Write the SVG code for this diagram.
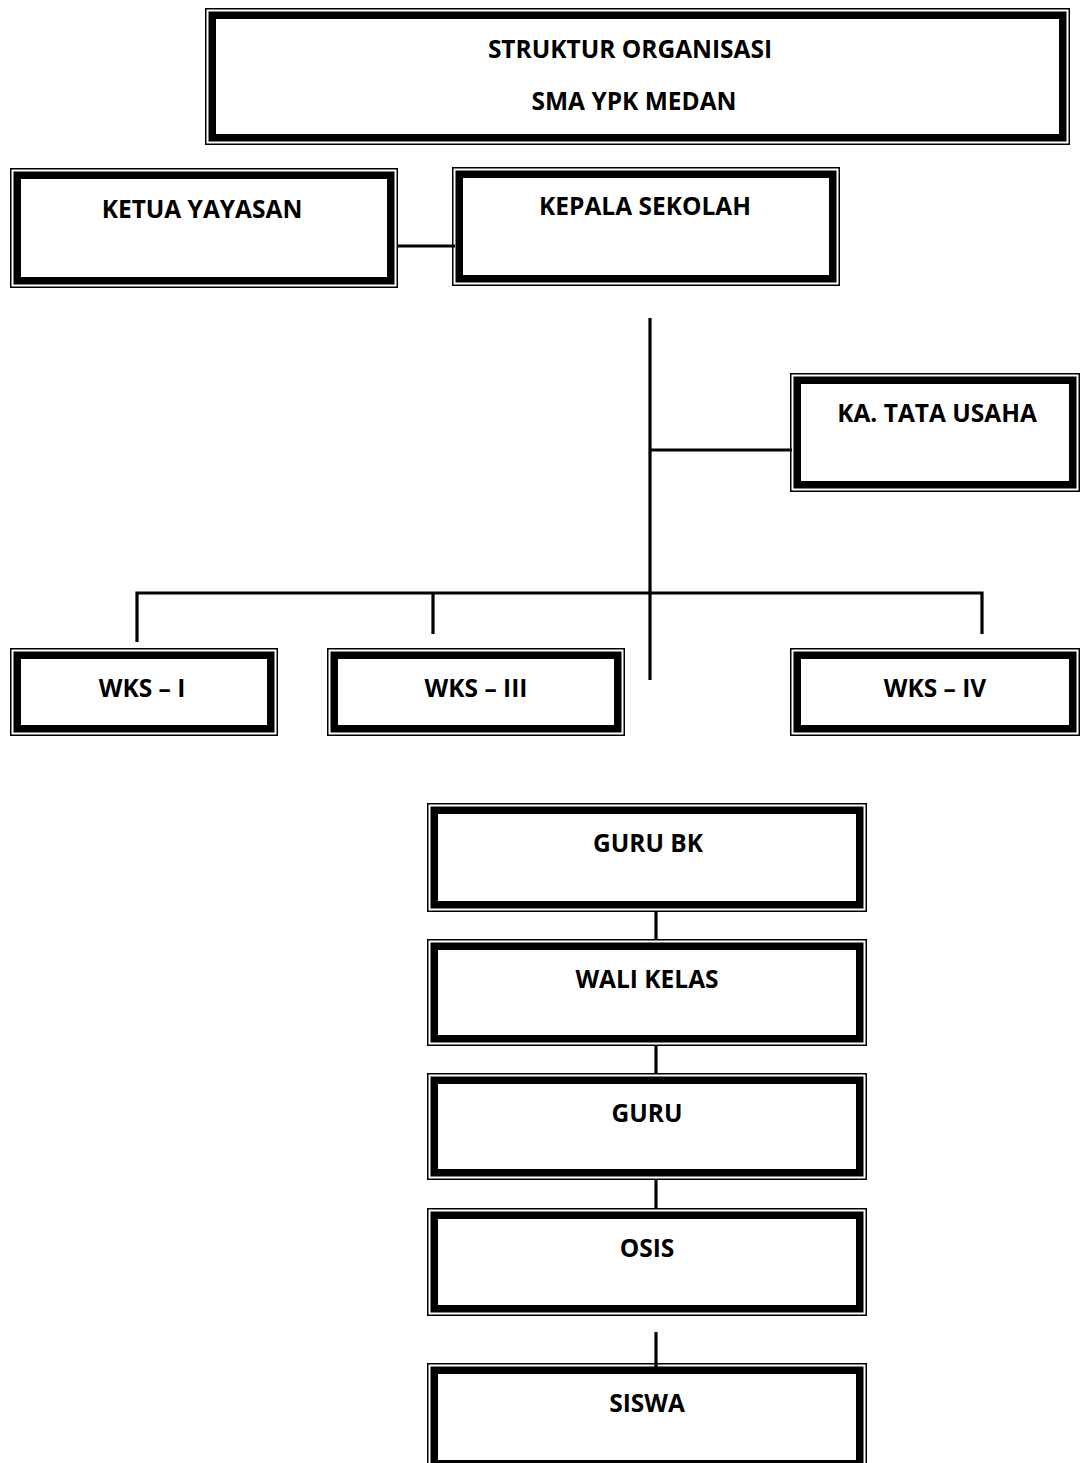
<svg xmlns="http://www.w3.org/2000/svg" width="1081" height="1463" viewBox="0 0 1081 1463">
<style>
.thin{fill:none;stroke:#000;stroke-width:1.5}
.thick{fill:none;stroke:#000;stroke-width:7.5}
text{font-family:"Open Sans","Liberation Sans",sans-serif;font-weight:bold;font-size:24.5px;fill:#000;text-anchor:middle}
.conn{stroke:#000;stroke-width:3.2;fill:none;stroke-linecap:butt;stroke-linejoin:miter}
</style>
<rect width="1081" height="1463" fill="#fff"/>
<g id="connectors">
<path class="conn" d="M398 246H455"/>
<path class="conn" d="M650 318V680"/>
<path class="conn" d="M650 450H792"/>
<path class="conn" d="M137 642V593H982V634"/>
<path class="conn" d="M433 593V634"/>
<path class="conn" d="M656 912V940"/>
<path class="conn" d="M656 1046V1074"/>
<path class="conn" d="M656 1180V1209"/>
<path class="conn" d="M656 1332V1367"/>
</g>
<g id="title">
<rect class="thin" x="205.75" y="8.75" width="863.5" height="135.5"/>
<rect class="thick" x="212.25" y="15.25" width="850.5" height="122.5"/>
<text x="630" y="58">STRUKTUR ORGANISASI</text>
<text x="634" y="110">SMA YPK MEDAN</text>
</g>
<g id="ketua-yayasan">
<rect class="thin" x="10.75" y="168.75" width="386.5" height="118.5"/>
<rect class="thick" x="17.25" y="175.25" width="373.5" height="105.5"/>
<text x="202" y="218">KETUA YAYASAN</text>
</g>
<g id="kepala-sekolah">
<rect class="thin" x="452.75" y="167.75" width="386.5" height="117.5"/>
<rect class="thick" x="459.25" y="174.25" width="373.5" height="104.5"/>
<text x="645" y="215">KEPALA SEKOLAH</text>
</g>
<g id="ka-tata-usaha">
<rect class="thin" x="790.75" y="373.75" width="288.5" height="117.5"/>
<rect class="thick" x="797.25" y="380.25" width="275.5" height="104.5"/>
<text x="937" y="422">KA. TATA USAHA</text>
</g>
<g id="wks-1">
<rect class="thin" x="10.75" y="648.75" width="266.5" height="86.5"/>
<rect class="thick" x="17.25" y="655.25" width="253.5" height="73.5"/>
<text x="142" y="697">WKS – I</text>
</g>
<g id="wks-3">
<rect class="thin" x="327.75" y="648.75" width="296.5" height="86.5"/>
<rect class="thick" x="334.25" y="655.25" width="283.5" height="73.5"/>
<text x="476" y="697">WKS – III</text>
</g>
<g id="wks-4">
<rect class="thin" x="790.75" y="648.75" width="288.5" height="86.5"/>
<rect class="thick" x="797.25" y="655.25" width="275.5" height="73.5"/>
<text x="935" y="697">WKS – IV</text>
</g>
<g id="guru-bk">
<rect class="thin" x="427.75" y="803.75" width="438.5" height="107.5"/>
<rect class="thick" x="434.25" y="810.25" width="425.5" height="94.5"/>
<text x="648" y="852">GURU BK</text>
</g>
<g id="wali-kelas">
<rect class="thin" x="427.75" y="939.75" width="438.5" height="105.5"/>
<rect class="thick" x="434.25" y="946.25" width="425.5" height="92.5"/>
<text x="647" y="988">WALI KELAS</text>
</g>
<g id="guru">
<rect class="thin" x="427.75" y="1073.75" width="438.5" height="105.5"/>
<rect class="thick" x="434.25" y="1080.25" width="425.5" height="92.5"/>
<text x="647" y="1122">GURU</text>
</g>
<g id="osis">
<rect class="thin" x="427.75" y="1208.75" width="438.5" height="106.5"/>
<rect class="thick" x="434.25" y="1215.25" width="425.5" height="93.5"/>
<text x="647" y="1257">OSIS</text>
</g>
<g id="siswa">
<rect class="thin" x="427.75" y="1363.75" width="438.5" height="106.5"/>
<rect class="thick" x="434.25" y="1370.25" width="425.5" height="93.5"/>
<text x="647" y="1412">SISWA</text>
</g>
</svg>
